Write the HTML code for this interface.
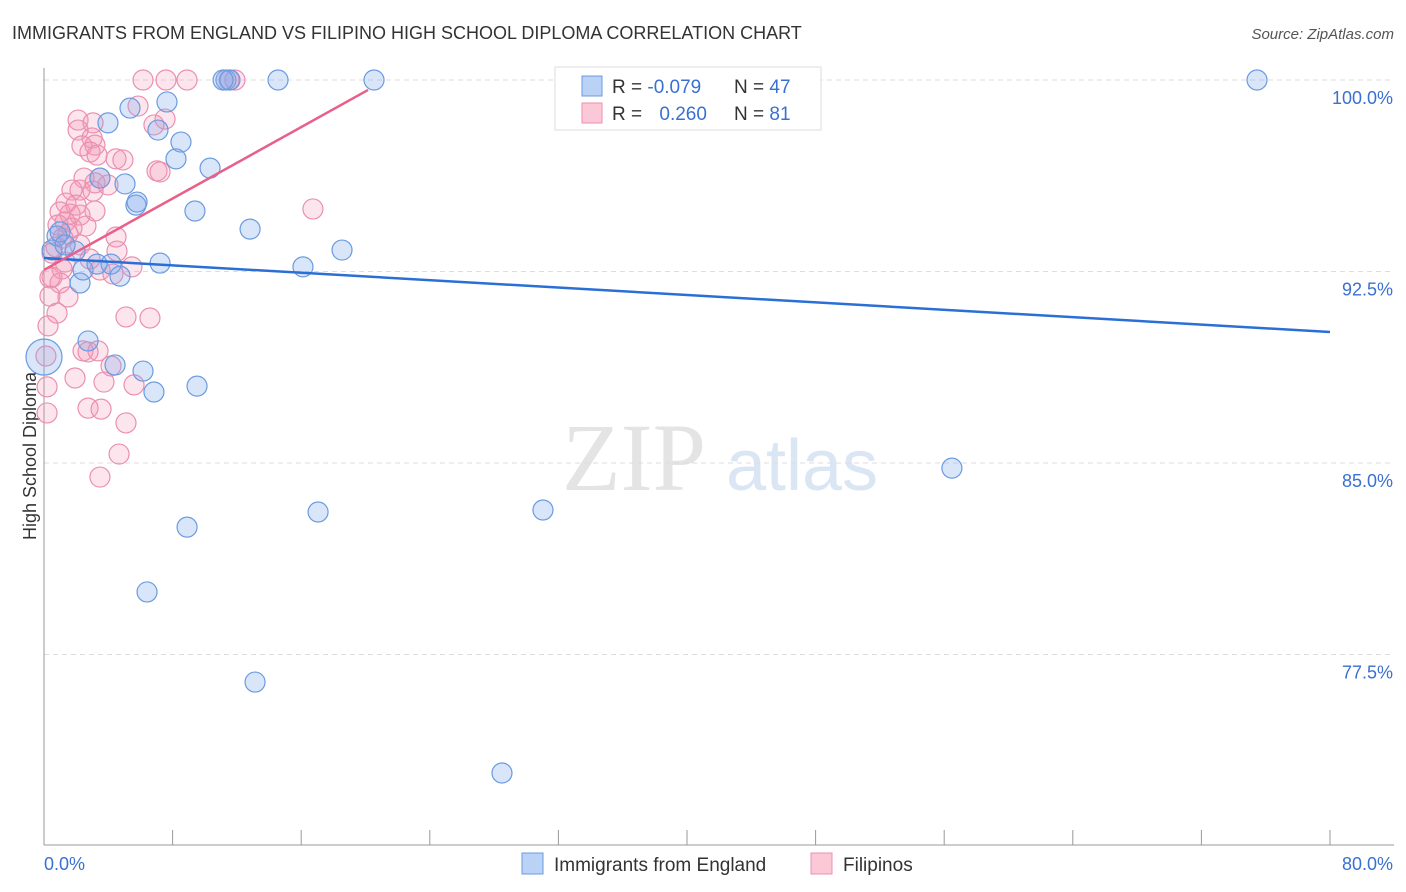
<!DOCTYPE html>
<html><head><meta charset="utf-8"><style>
body{margin:0;background:#fff;font-family:"Liberation Sans",sans-serif}
svg{display:block}
</style></head><body>
<svg id="c" width="1406" height="892" xmlns="http://www.w3.org/2000/svg">
<text x="12" y="39" font-size="18" fill="#333">IMMIGRANTS FROM ENGLAND VS FILIPINO HIGH SCHOOL DIPLOMA CORRELATION CHART</text>
<text x="1394" y="39" font-size="15" fill="#555" font-style="italic" text-anchor="end">Source: ZipAtlas.com</text>
<text x="36" y="456" font-size="18" fill="#333" text-anchor="middle" transform="rotate(-90 36 456)">High School Diploma</text>
<g><text x="634" y="490" font-size="96" fill="#e4e4e4" font-family="Liberation Serif,serif" text-anchor="middle">ZIP</text><text x="802" y="490" font-size="72" fill="#dbe6f5" text-anchor="middle">atlas</text></g>
<g id="grid"></g><g id="axes"></g><g id="pts"></g><g id="lines"></g>
<g>
<rect x="555" y="67" width="266" height="63" fill="#fff" stroke="#ddd"/>
<rect x="582" y="76" width="20" height="20" fill="#b9d2f5" stroke="#6a9be0"/>
<rect x="582" y="103" width="20" height="20" fill="#fbc8d8" stroke="#eb8fb0"/>
<text x="612" y="93" font-size="19" fill="#333">R = <tspan fill="#3a70d0">-0.079</tspan></text>
<text x="734" y="93" font-size="19" fill="#333">N = <tspan fill="#3a70d0">47</tspan></text>
<text x="612" y="120" font-size="19" fill="#333">R = <tspan fill="#3a70d0" dx="12">0.260</tspan></text>
<text x="734" y="120" font-size="19" fill="#333">N = <tspan fill="#3a70d0">81</tspan></text>
</g>
<g>
<rect x="522" y="853" width="21" height="21" fill="#b9d2f5" stroke="#6a9be0"/>
<text x="554" y="871" font-size="19" fill="#333">Immigrants from England</text>
<rect x="811" y="853" width="21" height="21" fill="#fbc8d8" stroke="#eb8fb0"/>
<text x="843" y="871" font-size="19" fill="#333">Filipinos</text>
</g>
</svg>
<script>
const yTicks=[100,92.5,85,77.5];
const yTickLabels=["100.0%","92.5%","85.0%","77.5%"];
const xLabels=["0.0%","80.0%"];
const blueX=[0,0.5,0.81,1.93,2.24,2.43,2.74,3.3,3.98,4.17,4.73,5.04,5.35,5.72,5.79,7.09,7.22,7.65,8.21,8.52,9.39,10.33,11.32,11.57,11.14,12.82,14.56,16.11,18.54,20.53,33.03,75.46,56.48,31.04,17.05,8.9,6.41,13.13,28.49,6.16,6.84,9.52,4.42,3.48,1.0,1.31];
const blueY=[89.15,93.34,93.89,93.3,92.05,92.56,89.78,92.79,98.32,92.79,92.32,95.93,98.9,95.1,95.22,98.04,92.83,99.14,96.91,97.57,94.87,96.55,100,100,100,94.16,100,92.68,93.34,100,100,100,84.8,83.16,83.08,82.49,79.95,76.42,72.86,88.6,87.78,88.01,88.84,96.16,94.05,93.54];
const pinkX=[6.16,7.59,8.9,11.51,11.88,5.85,2.12,3.05,7.53,6.84,2.12,2.99,2.36,3.17,2.86,3.3,4.48,4.91,7.03,7.22,2.49,3.48,3.17,3.98,2.24,3.05,1.74,16.73,1.37,1.99,3.17,1.0,1.62,2.24,1.31,2.61,1.74,0.87,1.18,1.49,4.48,0.75,2.24,4.54,0.5,2.86,1.31,1.12,5.47,3.48,4.29,0.5,1.0,0.37,1.49,0.37,0.81,0.25,5.1,6.59,2.43,3.36,2.74,0.12,4.17,1.93,3.73,5.6,0.19,2.74,3.55,0.19,5.1,4.67,3.48];
const pinkY=[100,100,100,100,100,98.98,98.43,98.32,98.47,98.24,98.04,97.73,97.42,97.45,97.18,97.06,96.91,96.87,96.44,96.4,96.16,96.16,95.97,95.89,95.69,95.65,95.69,94.95,95.18,95.1,94.87,94.83,94.75,94.71,94.44,94.28,94.2,94.32,93.81,93.97,93.85,93.46,93.54,93.3,93.22,92.99,92.87,92.6,92.68,92.56,92.4,92.28,92.05,92.25,91.5,91.54,90.87,90.37,90.72,90.68,89.39,89.39,89.35,89.19,88.8,88.33,88.17,88.06,87.98,87.15,87.11,86.96,86.57,85.35,84.45];
const blueTrend=[[0,93.03],[80,90.13]];
const pinkTrend=[[0,92.56],[20.16,99.61]];
const NS="http://www.w3.org/2000/svg";
const X=v=>44+v*(1286/80), Y=v=>80+(100-v)*(191.5/7.5);
function mk(t,a,p){const e=document.createElementNS(NS,t);for(const k in a)e.setAttribute(k,a[k]);p.appendChild(e);return e;}
const g=document.getElementById('grid'),ax=document.getElementById('axes'),pts=document.getElementById('pts'),ln=document.getElementById('lines');
yTicks.forEach((t,i)=>{
 const l=mk('line',{x1:44,x2:1394,y1:Y(t),y2:Y(t),stroke:'#ddd','stroke-dasharray':'5,4'},g);
 
 
 const tx=mk('text',{x:1393,y:Y(t)+24,'font-size':18,fill:'#3a70d0','text-anchor':'end'},ax);
 tx.textContent=yTickLabels[i];
 
 
});
mk('line',{x1:44,x2:44,y1:68,y2:845,stroke:'#999'},ax);
mk('line',{x1:44,x2:1394,y1:845,y2:845,stroke:'#999'},ax);
for(let i=0;i<=10;i++){const t=mk('line',{x1:X(i*8),x2:X(i*8),y1:830,y2:845,stroke:'#999'},ax);}
const xl0=mk('text',{x:44,y:870,'font-size':18,fill:'#3a70d0'},ax);xl0.textContent=xLabels[0];


const xl1=mk('text',{x:1393,y:870,'font-size':18,fill:'#3a70d0','text-anchor':'end'},ax);xl1.textContent=xLabels[1];


pinkX.forEach((v,i)=>{const c=mk('circle',{cx:X(v),cy:Y(pinkY[i]),r:10,fill:'rgba(245,150,180,0.25)',stroke:'#eb8fb0','stroke-width':1.2},pts);
 
 });
blueX.forEach((v,i)=>{const c=mk('circle',{cx:X(v),cy:Y(blueY[i]),r:i==0?18:10,fill:'rgba(130,170,235,0.3)',stroke:'#6a9be0','stroke-width':1.2},pts);
 
 });
const bl=mk('line',{x1:X(blueTrend[0][0]),y1:Y(blueTrend[0][1]),x2:X(blueTrend[1][0]),y2:Y(blueTrend[1][1]),stroke:'#2a6fd6','stroke-width':2.5},ln);


const pl=mk('line',{x1:X(pinkTrend[0][0]),y1:Y(pinkTrend[0][1]),x2:X(pinkTrend[1][0]),y2:Y(pinkTrend[1][1]),stroke:'#e8608a','stroke-width':2.5},ln);


</script>
</body></html>
